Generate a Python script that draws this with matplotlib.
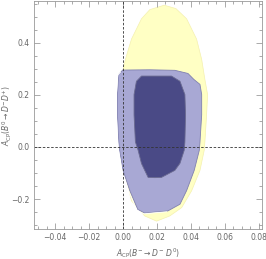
import numpy as np
import matplotlib.pyplot as plt
from matplotlib.ticker import MultipleLocator

# Region boundaries (x = A_CP(B- -> D- D0), y = A_CP(B0bar -> D- D+))
yellow_x = [0.0243, 0.0312, 0.0375, 0.0434, 0.0464, 0.0483, 0.0499, 0.0493, 0.0483, 0.0479,
            0.0454, 0.0405, 0.0346, 0.0276, 0.0198, 0.0128, 0.0050, -0.0008, -0.0020,
            -0.0006, 0.0014, 0.0050, 0.0109, 0.0158]
yellow_y = [0.544, 0.531, 0.492, 0.414, 0.336, 0.259, 0.201, 0.123, 0.019, -0.013,
            -0.090, -0.168, -0.233, -0.265, -0.285, -0.265, -0.207, -0.052, 0.104,
            0.278, 0.336, 0.414, 0.492, 0.527]

blue_x = [-0.0002, 0.0158, 0.0306, 0.0383, 0.0418, 0.0454, 0.0464, 0.0464, 0.0454, 0.0450,
          0.0420, 0.0375, 0.0336, 0.0264, 0.0193, 0.0128, 0.0087, 0.0040, 0.0000, -0.0020,
          -0.0025, -0.0033, -0.0033, -0.0025, -0.0009]
blue_y = [0.295, 0.296, 0.294, 0.282, 0.259, 0.240, 0.201, 0.123, 0.019, -0.013,
          -0.090, -0.168, -0.220, -0.246, -0.250, -0.254, -0.240, -0.168, -0.090, -0.013,
          0.019, 0.123, 0.201, 0.278, 0.290]

dark_x = [0.0109, 0.0286, 0.0336, 0.0365, 0.0369, 0.0365, 0.0361, 0.0336, 0.0306, 0.0227,
          0.0188, 0.0148, 0.0128, 0.0109, 0.0089, 0.0073, 0.0065, 0.0065, 0.0079]
dark_y = [0.272, 0.272, 0.252, 0.201, 0.123, 0.019, -0.013, -0.063, -0.090, -0.117,
          -0.118, -0.117, -0.090, -0.064, -0.013, 0.019, 0.123, 0.201, 0.252]

fig = plt.figure(figsize=(2.66, 2.59), dpi=100)
ax = fig.add_axes([0.128, 0.116, 0.857, 0.88])

ax.fill(yellow_x, yellow_y, color='#ffffc4', ec='#f4f0b0', lw=0.5, joinstyle='round')
ax.fill(blue_x, blue_y, color='#a8a8d4', ec='#8080b0', lw=0.6, joinstyle='round')
# thin white rim along the left side of the blue region
ax.plot(np.array(blue_x[13:]) - 0.0006, np.array(blue_y[13:]) - 0.003, color='white', lw=0.6)
ax.fill(dark_x, dark_y, color='#4a4a86', ec='#6a6a90', lw=0.6, joinstyle='round')

ax.axvline(0, color='#333333', ls=(0, (3, 2)), lw=0.6)
ax.axhline(0, color='#333333', ls=(0, (3, 2)), lw=0.6)

ax.set_xlim(-0.0525, 0.082)
ax.set_ylim(-0.315, 0.56)
ax.xaxis.set_major_locator(MultipleLocator(0.02))
ax.xaxis.set_minor_locator(MultipleLocator(0.005))
ax.yaxis.set_major_locator(MultipleLocator(0.2))
ax.yaxis.set_minor_locator(MultipleLocator(0.05))
ax.xaxis.set_major_formatter(plt.FuncFormatter(lambda v, p: f'{v:.2f}'.replace('-', '\u2212')))
ax.yaxis.set_major_formatter(plt.FuncFormatter(lambda v, p: f'{v:.1f}'.replace('-', '\u2212')))

ax.tick_params(which='both', direction='in', top=True, right=True, colors='#888888',
               labelcolor='#666666', labelsize=5.5, width=0.5, pad=3)
ax.tick_params(which='major', length=4)
ax.tick_params(which='minor', length=2)
for s in ax.spines.values():
    s.set_color('#999999')
    s.set_linewidth(0.6)

ax.set_xlabel(r'$A_{\mathrm{CP}}(B^{-}\rightarrow D^{-}\ D^{0})$', fontsize=5.5, color='#666666')
ax.set_ylabel(r'$A_{\mathrm{CP}}(\bar{B}^{0}\rightarrow D^{-}D^{+})$', fontsize=5.5, color='#666666')
ax.xaxis.set_label_coords(0.5, -0.075)
ax.yaxis.set_label_coords(-0.088, 0.5)

fig.savefig('out.png', dpi=100)
